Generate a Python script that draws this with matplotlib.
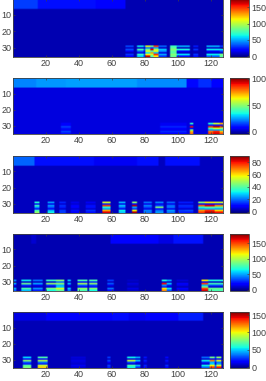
import numpy as np
import matplotlib
matplotlib.use('Agg')
import matplotlib.pyplot as plt

plt.rcParams['font.family'] = ['Liberation Sans', 'DejaVu Sans']

n_rows = 35
n_cols = 127

# colour limits of each panel
clims = [(-3, 176), (-5, 101), (-1.6, 90), (-3, 179), (-3, 158)]
cbar_ticks = [[0, 50, 100, 150], [0, 50, 100], [0, 20, 40, 60, 80], [0, 50, 100, 150], [0, 50, 100, 150]]

# background level of each panel
base_1 = 5
base_2 = 4
base_3 = 3.5
base_4 = 5
base_5 = 5

# top band, rows 1-6: (first col, last col, value)
band_1 = [(1, 15, 30), (16, 50, 22), (51, 68, 18)]
band_2 = [(1, 14, 22), (15, 32, 24), (33, 75, 25), (76, 105, 23), (106, 112, 9), (113, 120, 13), (121, 127, 8)]
band_3 = [(1, 13, 19), (14, 49, 11), (50, 75, 8), (76, 88, 11), (93, 113, 11)]
band_4 = [(12, 14, 10), (60, 88, 18), (89, 97, 13), (98, 115, 23)]
band_5 = [(1, 20, 11), (21, 60, 16), (61, 70, 19), (71, 80, 13), (81, 100, 17), (101, 115, 22)]

# bright patches in rows 29-35: (first col, last col, [values of rows 29..35])
patches_1 = [
    (69, 73, [32, 8, 32, 18, 6, 28, 18]),
    (76, 79, [62, 10, 75, 38, 14, 70, 55]),
    (80, 80, [35, 8, 35, 20, 8, 35, 28]),
    (81, 83, [110, 40, 85, 110, 60, 115, 165]),
    (84, 85, [85, 30, 160, 70, 130, 100, 75]),
    (86, 88, [150, 50, 100, 110, 50, 150, 115]),
    (89, 93, [38, 8, 55, 45, 12, 48, 28]),
    (96, 99, [72, 80, 88, 80, 78, 88, 82]),
    (100, 107, [52, 6, 65, 20, 8, 58, 22]),
    (110, 112, [24, 6, 28, 8, 6, 28, 22]),
    (118, 125, [52, 8, 62, 18, 10, 62, 36]),
    (126, 127, [30, 6, 58, 30, 8, 85, 78]),
]
patches_2 = [
    (30, 35, [8, 7, 15, 10, 7, 15, 10]),
    (90, 105, [6, 6, 12, 8, 6, 12, 8]),
    (108, 109, [38, 8, 90, 8, 45, 70, 78]),
    (119, 121, [36, 10, 85, 42, 24, 78, 85]),
    (122, 125, [58, 10, 95, 60, 26, 88, 92]),
    (126, 127, [72, 10, 85, 52, 28, 70, 82]),
]
patches_3 = [
    (14, 16, [34, 8, 36, 24, 11, 38, 46]),
    (22, 25, [24, 7, 24, 18, 8, 26, 32]),
    (29, 32, [13, 5, 14, 12, 5, 15, 15]),
    (36, 40, [7, 5, 10, 9, 5, 11, 10]),
    (45, 50, [8, 5, 11, 11, 5, 14, 11]),
    (55, 59, [54, 12, 76, 34, 24, 66, 82]),
    (65, 68, [26, 7, 28, 20, 8, 32, 28]),
    (73, 75, [46, 10, 85, 25, 14, 58, 86]),
    (80, 84, [20, 7, 22, 16, 7, 22, 20]),
    (87, 91, [22, 7, 16, 44, 10, 20, 24]),
    (94, 98, [19, 7, 20, 20, 7, 24, 20]),
    (101, 104, [12, 5, 14, 12, 5, 15, 13]),
    (105, 109, [12, 5, 14, 12, 5, 16, 12]),
    (113, 116, [46, 8, 72, 35, 24, 68, 76]),
    (117, 122, [58, 10, 82, 40, 26, 78, 85]),
    (123, 127, [54, 10, 68, 38, 24, 62, 80]),
]
patches_4 = [
    (1, 2, [46, 7, 50, 20, 7, 50, 36]),
    (6, 11, [62, 9, 82, 28, 11, 76, 55]),
    (13, 18, [40, 7, 50, 16, 8, 46, 26]),
    (21, 26, [72, 10, 92, 28, 11, 86, 66]),
    (27, 31, [88, 38, 92, 52, 55, 108, 82]),
    (34, 35, [56, 7, 56, 18, 7, 56, 40]),
    (40, 45, [76, 18, 96, 36, 18, 92, 76]),
    (47, 51, [76, 26, 92, 32, 22, 90, 66]),
    (58, 61, [30, 7, 36, 15, 7, 40, 22]),
    (70, 76, [9, 6, 12, 9, 6, 13, 9]),
    (91, 93, [66, 10, 160, 45, 26, 118, 135]),
    (94, 96, [50, 8, 56, 24, 10, 60, 36]),
    (100, 106, [11, 6, 18, 14, 6, 20, 13]),
    (115, 118, [116, 20, 150, 52, 85, 150, 165]),
    (119, 127, [66, 9, 74, 34, 10, 82, 76]),
]
patches_5 = [
    (7, 11, [52, 16, 80, 32, 20, 70, 78]),
    (16, 21, [68, 16, 86, 36, 22, 92, 108]),
    (36, 44, [10, 8, 12, 10, 8, 13, 9]),
    (58, 59, [26, 7, 28, 16, 7, 26, 22]),
    (70, 74, [56, 10, 92, 30, 10, 68, 56]),
    (75, 77, [44, 8, 48, 16, 7, 46, 25]),
    (80, 81, [20, 6, 22, 11, 6, 22, 18]),
    (93, 94, [18, 6, 20, 10, 6, 24, 17]),
    (115, 120, [34, 8, 56, 24, 10, 56, 34]),
    (120, 122, [76, 14, 122, 45, 50, 102, 135]),
    (123, 123, [30, 7, 36, 20, 8, 36, 30]),
    (124, 126, [82, 16, 98, 36, 42, 92, 140]),
]

bases = [base_1, base_2, base_3, base_4, base_5]
bands = [band_1, band_2, band_3, band_4, band_5]
patches = [patches_1, patches_2, patches_3, patches_4, patches_5]

# pixel boxes of the panels: (top, bottom)
panel_y = [(-1, 57), (78.3, 134.3), (156, 212.7), (234, 290.7), (312.3, 368.3)]
W = 266.0
H = 381.0

dark = '#404040'

fig = plt.figure(figsize=(W / 100, H / 100), dpi=100)

for i in range(5):
    data = np.full((n_rows, n_cols), float(bases[i]))
    for c0, c1, v in bands[i]:
        data[0:6, c0 - 1:c1] = v
    for c0, c1, vals in patches[i]:
        data[28:35, c0 - 1:c1] = np.array(vals)[:, None]

    y0, y1 = panel_y[i]
    ax = fig.add_axes([13.3 / W, 1 - y1 / H, 210 / W, (y1 - y0) / H])
    im = ax.imshow(data, cmap='jet', vmin=clims[i][0], vmax=clims[i][1], aspect='auto',
                   interpolation='bilinear', extent=(0.5, n_cols + 0.5, n_rows + 0.5, 0.5))
    ax.set_xticks([20, 40, 60, 80, 100, 120])
    ax.set_yticks([10, 20, 30])
    ax.tick_params(direction='in', length=1.5, width=0.5, labelsize=6.5, colors=dark, pad=1.5,
                   top=True, right=True)
    for s in ax.spines.values():
        s.set_linewidth(0.6)
        s.set_color(dark)

    cax = fig.add_axes([230 / W, 1 - y1 / H, 19.3 / W, (y1 - y0) / H])
    cb = fig.colorbar(im, cax=cax)
    cb.set_ticks(cbar_ticks[i])
    cb.ax.tick_params(direction='in', length=1.5, width=0.5, labelsize=6.5, colors=dark, pad=1.5)
    cb.outline.set_linewidth(0.6)
    cb.outline.set_edgecolor(dark)

fig.savefig('out.png', dpi=100)
